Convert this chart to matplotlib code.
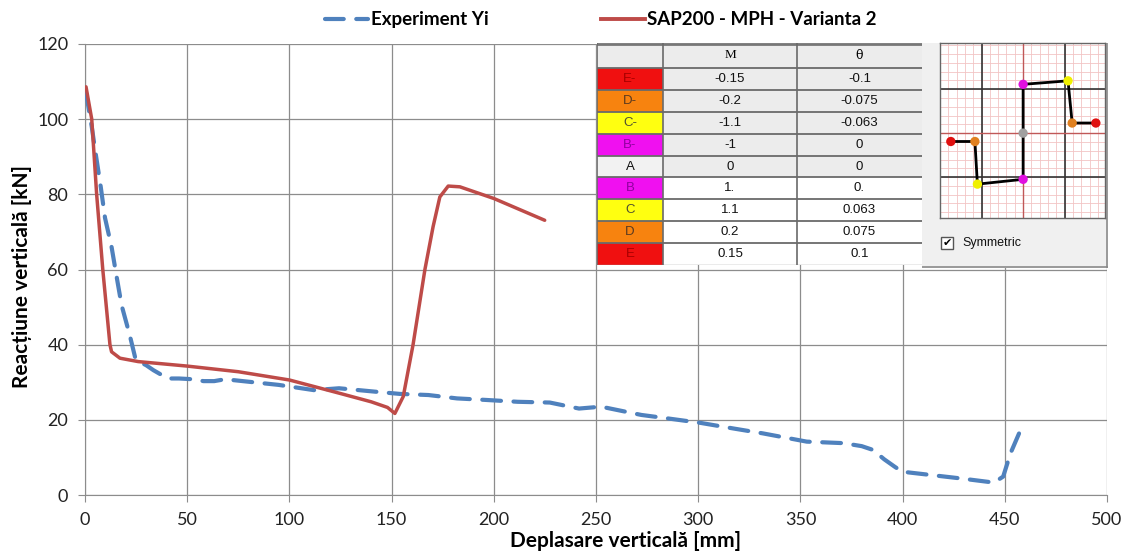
import matplotlib
matplotlib.use("Agg")
import matplotlib.pyplot as plt
from matplotlib.patches import Rectangle
from matplotlib.lines import Line2D

# experiment curve (dashed blue)
exp_x = [0.5, 3.3, 4.9, 7.7, 9.8, 13.0, 15.5, 17.9, 21.9, 24.8, 30.0, 33.5, 40.5, 46.0,
         52.7, 58.0, 63.2, 68.5, 80.7, 94.7, 112.0, 124.3, 141.8, 154.0, 168.0, 182.0,
         196.0, 211.7, 227.4, 241.7, 252.5, 272.2, 284.8, 301.0, 317.2, 331.6, 353.1,
         371.0, 380.0, 385.5, 391.0, 396.2, 399.8, 414.2, 428.6, 444.7, 449.2, 452.8, 457.3]
exp_y = [107.0, 98.0, 92.0, 82.0, 73.7, 66.0, 58.0, 50.5, 42.5, 36.0, 34.5, 33.2, 31.0, 31.0,
         30.8, 30.3, 30.3, 30.8, 30.1, 29.3, 27.9, 28.4, 27.5, 26.9, 26.6, 25.7,
         25.3, 24.8, 24.6, 23.0, 23.5, 21.3, 20.4, 19.2, 17.7, 16.4, 14.2,
         13.8, 13.0, 12.0, 9.5, 7.5, 6.2, 5.3, 4.4, 3.3, 4.9, 11.1, 16.8]

# SAP2000 curve (solid red)
sap_x = [0.5, 3.3, 5.7, 8.7, 12.2, 13.0, 17.1, 26.0, 50.0, 75.0, 100.0, 125.0, 140.0,
         148.0, 151.6, 155.7, 160.5, 166.3, 170.3, 173.6, 177.7, 183.4, 200.0, 224.9]
sap_y = [108.6, 100.0, 80.0, 60.0, 40.0, 38.1, 36.4, 35.5, 34.3, 32.8, 30.6, 27.0, 24.8,
         23.3, 21.7, 26.2, 40.0, 60.0, 71.4, 79.3, 82.2, 82.0, 78.9, 73.1]

# hinge property table
row_labels = ['E-', 'D-', 'C-', 'B-', 'A', 'B', 'C', 'D', 'E']
m_vals = ['-0.15', '-0.2', '-1.1', '-1', '0', '1.', '1.1', '0.2', '0.15']
theta_vals = ['-0.1', '-0.075', '-0.063', '0', '0', '0.', '0.063', '0.075', '0.1']
row_colors = ['#f01010', '#f7830f', '#ffff10', '#f010f0', '#f2f2f2',
              '#f010f0', '#ffff10', '#f7830f', '#f01010']
label_colors = ['#a80000', '#5a3a20', '#505030', '#9000a0', '#111111',
                '#9000a0', '#505030', '#5a3a20', '#a80000']

# hinge diagram points
hinge_x = [-1.74, -1.16, -1.10, 0.0, 0.0, 0.0, 1.08, 1.18, 1.75]
hinge_y = [-0.19, -0.19, -1.16, -1.05, 0.0, 1.11, 1.19, 0.23, 0.23]
hinge_colors = ['#e01010', '#e08020', '#f0f000', '#e010e0', '#a0a0a0',
                '#e010e0', '#f0f000', '#e08020', '#e01010']

W, H = 1126, 552
plt.rcParams['font.family'] = ['Lato', 'DejaVu Sans']
fig = plt.figure(figsize=(W / 100, H / 100), dpi=100)

def px_axes(x0, y0, x1, y1):
    return fig.add_axes([x0 / W, 1 - y1 / H, (x1 - x0) / W, (y1 - y0) / H])

ax = px_axes(85, 44, 1107, 495)
grid_c = '#8c8c8c'
blue_dash = (4.5, 3.0)
ax.plot(exp_x, exp_y, color='#4f81bd', lw=3.0, dashes=blue_dash, dash_capstyle='round',
        label='Experiment Yi', zorder=3)
ax.plot(sap_x, sap_y, color='#be4b48', lw=2.5, solid_capstyle='round',
        solid_joinstyle='round', label='SAP200 - MPH - Varianta 2', zorder=3)
ax.set_xlim(0, 500)
ax.set_ylim(0, 120)
ax.set_xticks(range(0, 501, 50))
ax.set_yticks(range(0, 121, 20))
ax.grid(True, color=grid_c, lw=0.9)
ax.set_axisbelow(True)
for s in ['top', 'right']:
    ax.spines[s].set_visible(False)
for s in ['left', 'bottom']:
    ax.spines[s].set_color(grid_c)
ax.tick_params(length=5, color=grid_c, labelsize=13, labelcolor='#222222', pad=7)

# axis titles (placed like the Excel original, x title sits right of centre)
fig.text(626 / W, 1 - 541 / H, 'Deplasare verticală [mm]', fontsize=15, fontweight='bold',
         ha='center', va='center')
fig.text(22 / W, 1 - 276 / H, 'Reacțiune verticală [kN]', fontsize=15, fontweight='bold',
         ha='center', va='center', rotation=90)

handles = [Line2D([], [], color='#4f81bd', lw=3.0, dashes=blue_dash, dash_capstyle='round'),
           Line2D([], [], color='#be4b48', lw=2.8)]
fig.legend(handles, ['Experiment Yi', 'SAP200 - MPH - Varianta 2'], loc='upper center',
           bbox_to_anchor=(601 / W, 1.01), ncol=2, frameon=False, columnspacing=6.0,
           handlelength=2.3, handletextpad=0.15, prop={'weight': 'bold', 'size': 13.5})

# table overlay
tx0, ty0, tx1, ty1 = 597, 43, 922, 265
tab = px_axes(tx0, ty0, tx1, ty1)
tab.set_xlim(tx0, tx1)
tab.set_ylim(ty1, ty0)
tab.axis('off')
col_edges = [597, 663, 797, 922]
head_h = 25
row_h = (ty1 - ty0 - head_h) / len(row_labels)
tab.add_patch(Rectangle((tx0, ty0), tx1 - tx0, ty1 - ty0, facecolor='white', edgecolor='none'))
tab.add_patch(Rectangle((tx0, ty0), tx1 - tx0, head_h, facecolor='#ececec', edgecolor='none'))
tab.text((col_edges[1] + col_edges[2]) / 2, ty0 + head_h / 2, 'M', family='Liberation Serif',
         fontsize=9.5, ha='center', va='center')
tab.text((col_edges[2] + col_edges[3]) / 2, ty0 + head_h / 2, 'θ', family='DejaVu Serif',
         fontsize=9, ha='center', va='center')
for i, lab in enumerate(row_labels):
    y = ty0 + head_h + i * row_h
    tab.add_patch(Rectangle((col_edges[0], y), col_edges[1] - col_edges[0], row_h,
                            facecolor=row_colors[i], edgecolor='none'))
    bg = '#ececec' if i < 5 else 'white'
    tab.add_patch(Rectangle((col_edges[1], y), col_edges[3] - col_edges[1], row_h,
                            facecolor=bg, edgecolor='none'))
    yc = y + row_h / 2
    tab.text((col_edges[0] + col_edges[1]) / 2, yc, lab, color=label_colors[i],
             family='Liberation Sans', fontsize=9.5, ha='center', va='center')
    tab.text((col_edges[1] + col_edges[2]) / 2, yc, m_vals[i], color='#111111',
             family='Liberation Sans', fontsize=9.5, ha='center', va='center')
    tab.text((col_edges[2] + col_edges[3]) / 2, yc, theta_vals[i], color='#111111',
             family='Liberation Sans', fontsize=9.5, ha='center', va='center')
for i in range(len(row_labels)):
    y = ty0 + head_h + i * row_h
    tab.plot([tx0, tx1], [y, y], color='#6a6a6a', lw=1.3)
tab.plot([tx0, tx1], [ty0 + 1, ty0 + 1], color='#777777', lw=2.0)
tab.plot([tx0, tx1], [ty1, ty1], color='#9a9a9a', lw=1.0)
for xe in col_edges[:3]:
    tab.plot([xe, xe], [ty0, ty1], color='#6a6a6a', lw=1.2)

# hinge diagram panel
pan = px_axes(922, 43, 1108, 268)
pan.set_xlim(922, 1108)
pan.set_ylim(268, 43)
pan.axis('off')
pan.add_patch(Rectangle((922, 43), 186, 225, facecolor='#f0f0f0', edgecolor='none'))
pan.plot([1107, 1107], [43, 268], color='#8a8a8a', lw=1.2)
pan.plot([922, 1108], [267, 267], color='#8a8a8a', lw=1.2)
pan.add_patch(Rectangle((941, 237), 12, 12, facecolor='white', edgecolor='#555555', lw=1.0))
pan.text(947, 243.5, '✔', family='DejaVu Sans', fontsize=8, ha='center', va='center',
         color='black')
pan.text(962, 243, 'Symmetric', family='Liberation Sans', fontsize=9, ha='left',
         va='center', color='#111111')

ins = px_axes(940, 43, 1105, 218)
ins.set_facecolor('white')
ins.set_xlim(-2.0, 1.97)
ins.set_ylim(-1.93, 2.05)
fine = [v / 5 for v in range(-10, 11)]
for v in fine:
    ins.axvline(v, color='#f2c4c4', lw=0.6, zorder=1)
    ins.axhline(v, color='#f2c4c4', lw=0.6, zorder=1)
for v in (-1, 1):
    ins.axvline(v, color='#333333', lw=1.2, zorder=2)
    ins.axhline(v, color='#333333', lw=1.2, zorder=2)
ins.axvline(0, color='#c05858', lw=1.0, zorder=2)
ins.axhline(0, color='#c05858', lw=1.0, zorder=2)
ins.plot(hinge_x, hinge_y, color='black', lw=2.0, zorder=3)
ins.scatter(hinge_x, hinge_y, c=hinge_colors, s=45, zorder=4, edgecolors='none')
ins.set_xticks([])
ins.set_yticks([])
for s in ins.spines.values():
    s.set_color('#666666')
    s.set_linewidth(1.0)

fig.savefig('out.png', dpi=100)
